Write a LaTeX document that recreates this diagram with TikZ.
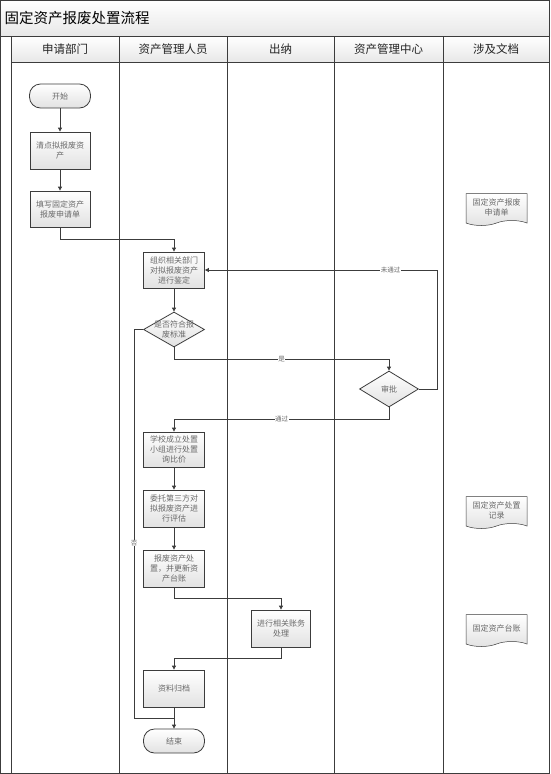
\documentclass[tikz,border=0pt]{standalone}
\usepackage{fontspec}
\setmainfont{Noto Sans CJK SC}
\usetikzlibrary{arrows.meta,positioning,shapes.geometric,shapes.symbols,calc}
\definecolor{frame}{RGB}{60,60,60}
\definecolor{ink}{RGB}{35,35,35}
\definecolor{soft}{RGB}{105,105,105}
\definecolor{shadegray}{RGB}{226,226,226}

\tikzset{
  flow/.style={draw=frame,line width=0.8pt,-{Triangle[length=4pt,width=4pt]}},
  link/.style={draw=frame,line width=0.8pt},
  stepbox/.style={rectangle,draw=frame,line width=0.8pt,top color=white,bottom color=shadegray,
    minimum width=61pt,minimum height=36pt,inner sep=1pt,align=center,
    font=\fontsize{8}{10}\selectfont,text=soft},
  term/.style={stepbox,rounded corners=11pt,minimum height=24pt},
  decide/.style={diamond,draw=frame,line width=0.8pt,top color=white,bottom color=shadegray,
    minimum width=61pt,minimum height=35pt,inner sep=0pt},
  dtext/.style={align=center,font=\fontsize{8}{10}\selectfont,text=soft},
  doc/.style={tape,tape bend top=none,tape bend bottom=in and out,draw=frame,line width=0.5pt,
    top color=white,bottom color=shadegray,minimum width=61pt,minimum height=32pt,
    inner sep=1pt,align=center,font=\fontsize{8}{10}\selectfont,text=soft},
  lbl/.style={fill=white,inner sep=0.5pt,font=\fontsize{6.5}{7}\selectfont,text=soft}
}

\begin{document}
\begin{tikzpicture}[x=1pt,y=-1pt]
  \useasboundingbox (0,0) rectangle (550,774);
  % title band and lane headers
  \shade[top color=white,bottom color=shadegray!80] (0,0) rectangle (550,36);
  \shade[top color=white,bottom color=shadegray!80] (11,36) rectangle (549,62);
  \draw[frame,line width=0.8pt] (0.5,0.5) rectangle (549.5,773.5);
  \draw[frame,line width=0.8pt] (0.5,36) -- (549.5,36);
  \draw[frame,line width=0.8pt] (11,62) -- (549.5,62);
  \node[anchor=west,font=\fontsize{14.5}{16}\selectfont,text=black] (title) at (1,18) {固定资产报废处置流程};
  \foreach \l/\r/\t [count=\i] in {11/119/申请部门,119/227/资产管理人员,227/334/出纳,
    334/443/资产管理中心,443/549/涉及文档}
  {
    \draw[frame,line width=0.8pt] (\l,36) -- (\l,774);
    \node[font=\fontsize{11.5}{13}\selectfont,text=ink] (h\i) at ({(\l+\r)/2},49) {\t};
  }

  % steps
  \node[term] (start) at (60,96) {开始};
  \node[stepbox,minimum width=60pt,minimum height=37pt] (s1) at (60,150.5) {清点拟报废资\\产};
  \node[stepbox,minimum width=60pt] (s2) at (60,209) {填写固定资产\\报废申请单};
  \node[stepbox] (s3) at (174,270) {组织相关部门\\对拟报废资产\\进行鉴定};
  \node[decide,label={[dtext]center:{是否符合报\\废标准}}] (d1) at (174,329.5) {};
  \node[decide,minimum width=59pt,minimum height=36pt,label={[dtext]center:审批}] (d2) at (389,389) {};
  \node[stepbox,minimum height=35pt] (s4) at (174,449.5) {学校成立处置\\小组进行处置\\询比价};
  \node[stepbox,minimum height=37pt] (s5) at (174,508.5) {委托第三方对\\拟报废资产进\\行评估};
  \node[stepbox,minimum height=37pt] (s6) at (174,568.5) {报废资产处\\置，并更新资\\产台账};
  \node[stepbox,minimum width=59pt,minimum height=37pt] (s7) at (281,628.5) {进行相关账务\\处理};
  \node[stepbox,minimum height=37pt] (s8) at (174,688.5) {资料归档};
  \node[term,minimum width=61pt] (end) at (174,741) {结束};

  % documents
  \node[doc] (doc1) at (496.5,207) {固定资产报废\\申请单};
  \node[doc] (doc2) at (496.5,510) {固定资产处置\\记录};
  \node[doc] (doc3) at (496.5,628) {固定资产台账};

  % connectors
  \draw[flow] (start) -- (s1);
  \draw[flow] (s1) -- (s2);
  \draw[flow] (s2.south) -- ++(0,12) -| (s3.north);
  \draw[flow] (s3) -- (d1);
  \draw[flow] (d1.south) -- ++(0,12) -| node[lbl,pos=0.25] {是} (d2.north);
  \draw[flow] (d2.east) -- ++(18,0) |- node[lbl,pos=0.6] {未通过} (s3.east);
  \draw[flow] (d2.south) -- ++(0,12) -| node[lbl,pos=0.25] {通过} (s4.north);
  \draw[flow] (s4) -- (s5);
  \draw[flow] (s5) -- (s6);
  \draw[flow] (s6.south) -- ++(0,11) -| (s7.north);
  \draw[flow] (s7.south) -- ++(0,11) -| (s8.north);
  \draw[flow] (s8) -- (end);
  \coordinate (join) at ($(s8.south)!0.5!(end.north)$);
  \draw[link] (d1.west) -- ++(-9,0) |- node[lbl,pos=0.275] {否} (join);
\end{tikzpicture}
\end{document}
